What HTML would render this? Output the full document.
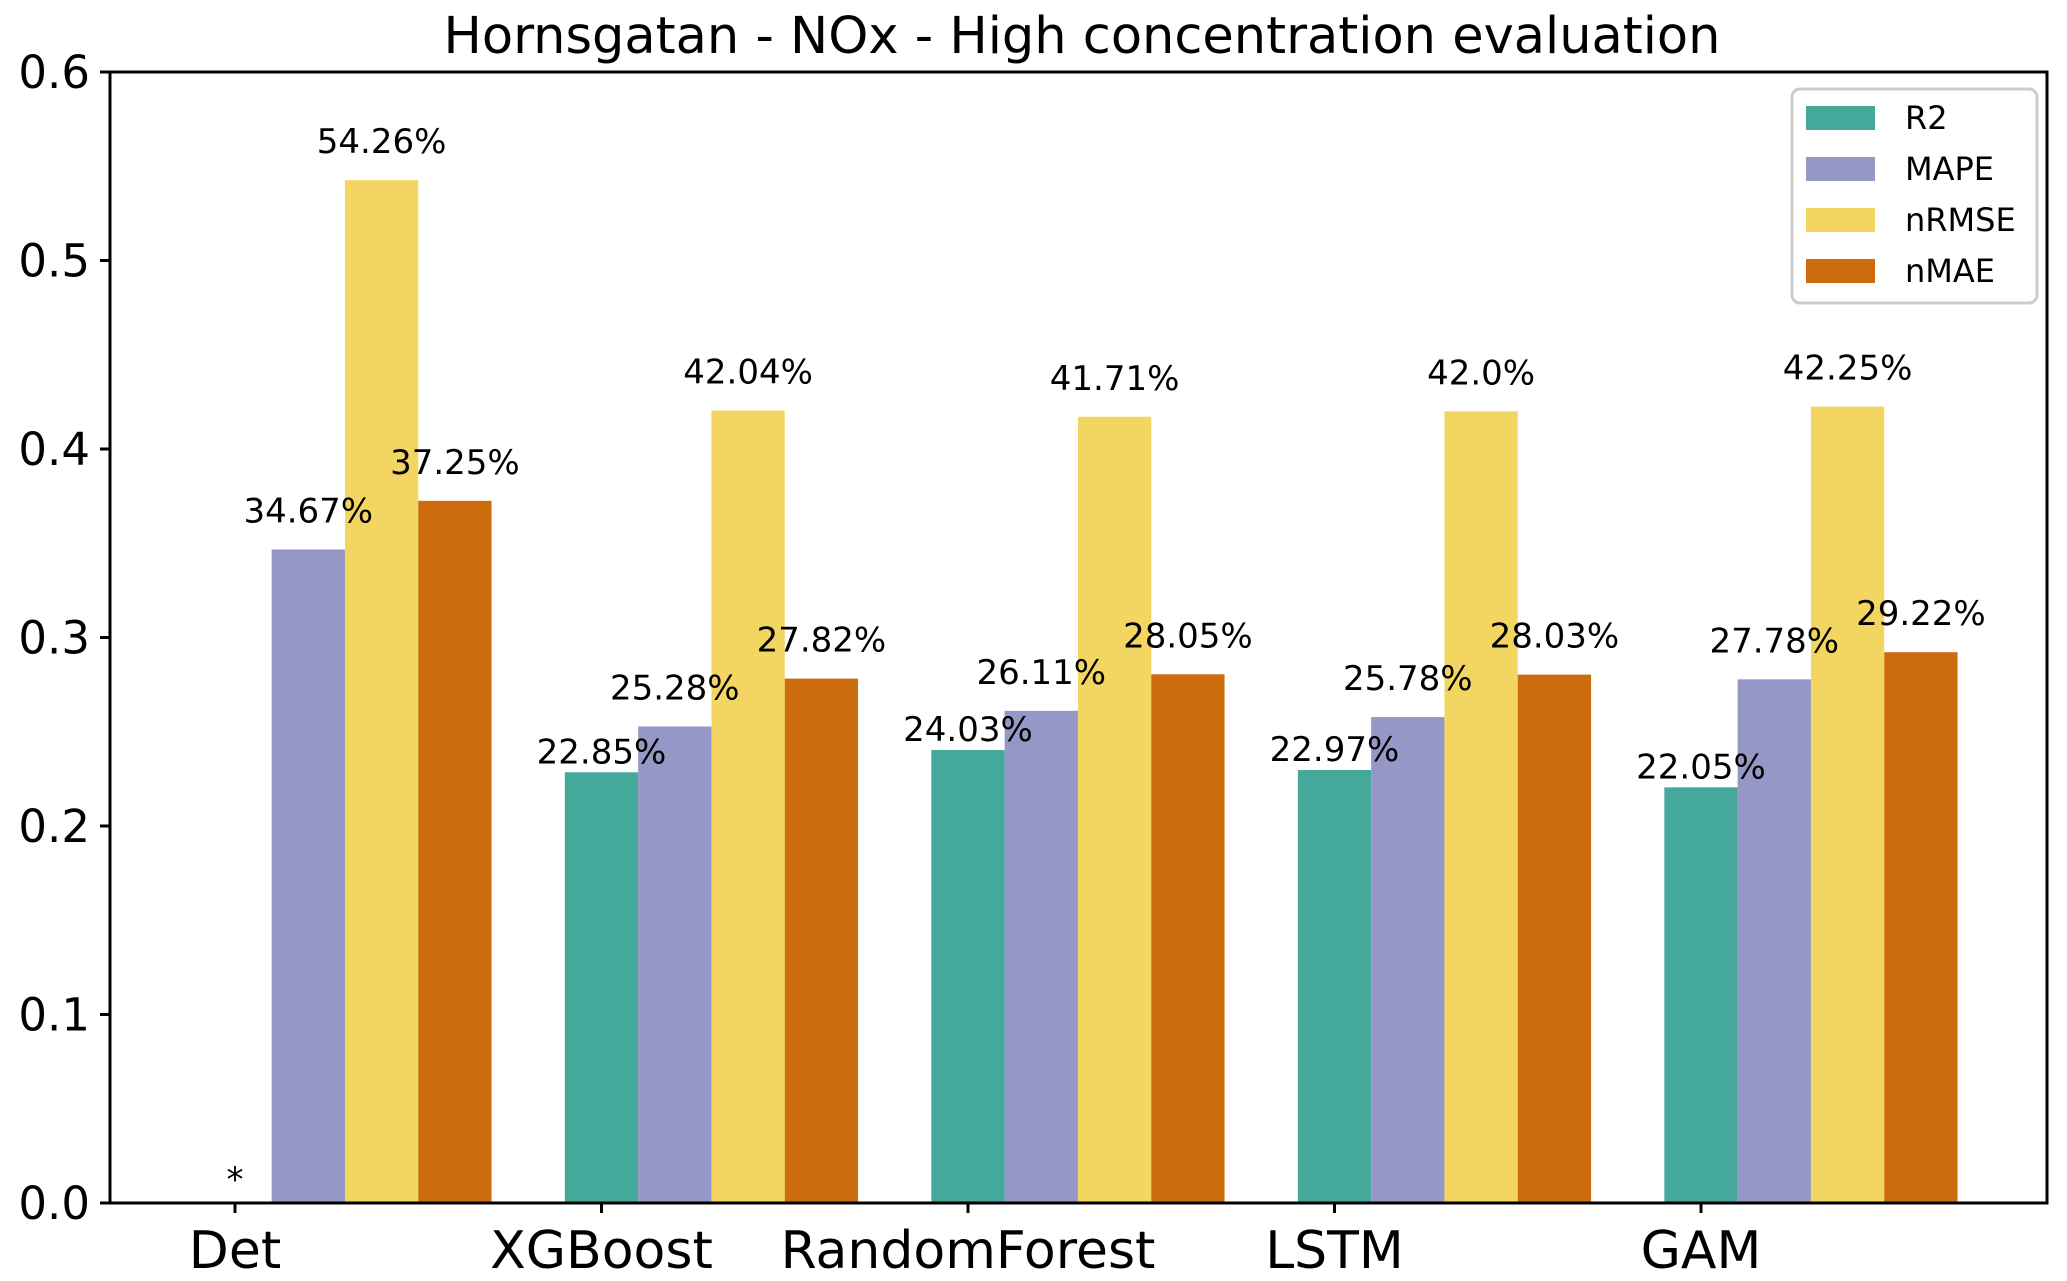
<!DOCTYPE html>
<html><head><meta charset="utf-8"><style>
html,body{margin:0;padding:0;background:#fff;}
svg{display:block;font-family:"DejaVu Sans","Liberation Sans",sans-serif;}
</style></head><body>
<svg id="chart" width="2067" height="1281" viewBox="0 0 2067 1281">
<text x="1082" y="53" font-size="51" text-anchor="middle">Hornsgatan - NOx - High concentration evaluation</text>
</svg>
<script>
const categories = ["Det","XGBoost","RandomForest","LSTM","GAM"];
const seriesNames = ["R2","MAPE","nRMSE","nMAE"];
const r2Values = [null,0.2285,0.2403,0.2297,0.2205];
const mapeValues = [0.3467,0.2528,0.2611,0.2578,0.2778];
const nrmseValues = [0.5426,0.4204,0.4171,0.4200,0.4225];
const nmaeValues = [0.3725,0.2782,0.2805,0.2803,0.2922];
const r2Labels = ["*","22.85%","24.03%","22.97%","22.05%"];
const mapeLabels = ["34.67%","25.28%","26.11%","25.78%","27.78%"];
const nrmseLabels = ["54.26%","42.04%","41.71%","42.0%","42.25%"];
const nmaeLabels = ["37.25%","27.82%","28.05%","28.03%","29.22%"];
const yTicks = [0,0.1,0.2,0.3,0.4,0.5,0.6];
const yTickLabels = ["0.0","0.1","0.2","0.3","0.4","0.5","0.6"];

const NS="http://www.w3.org/2000/svg";
const svg=document.getElementById('chart');
const L=110,R=2047,T=72,B=1203;
const colors=["#44a99a","#9598c6","#f3d562","#cc6c0e"];
const spacing=366.5, bw=73.3, x0=235;
const xCenter=i=>x0+i*spacing;
const y=v=>B-(v/0.6)*(B-T);
function mk(tag,attrs){const e=document.createElementNS(NS,tag);for(const k in attrs)e.setAttribute(k,attrs[k]);svg.appendChild(e);return e;}

const allVals=[r2Values,mapeValues,nrmseValues,nmaeValues];
const allLabels=[r2Labels,mapeLabels,nrmseLabels,nmaeLabels];
const seriesKeys=["r2","mape","nrmse","nmae"];
for(let s=0;s<4;s++){
  for(let i=0;i<categories.length;i++){
    const v=allVals[s][i];
    const cx=xCenter(i)+(s*bw);
    if(v!==null){
      const r=mk('rect',{x:cx-bw/2,y:y(v),width:bw,height:B-y(v),fill:colors[s]});
      
      
    }
  }
}
for(let s=0;s<4;s++){
  for(let i=0;i<categories.length;i++){
    const v=allVals[s][i];
    const cx=xCenter(i)+(s*bw);
    const lv=v===null?0:v;
    const off=v===null?12:(s===0?9:27);
    const t=mk('text',{x:cx,y:y(lv)-off,'font-size':34,'text-anchor':'middle'});
    t.textContent=allLabels[s][i];
    
    
  }
}
const fr=mk('rect',{x:L,y:T,width:R-L,height:B-T,fill:'none',stroke:'#000','stroke-width':3});


for(let k=0;k<yTicks.length;k++){
  const yy=y(yTicks[k]);
  const tl=mk('line',{x1:L-10,x2:L,y1:yy,y2:yy,stroke:'#000','stroke-width':3});
  
  
  const t=mk('text',{x:L-20,y:yy+16,'font-size':45,'text-anchor':'end'});
  t.textContent=yTickLabels[k];
  
  
}
for(let i=0;i<categories.length;i++){
  const xx=xCenter(i);
  const tl=mk('line',{x1:xx,x2:xx,y1:B,y2:B+10,stroke:'#000','stroke-width':3});
  
  
  const t=mk('text',{x:xx,y:B+65,'font-size':52,'text-anchor':'middle'});
  t.textContent=categories[i];
  
  
}
const lg=mk('rect',{x:1792,y:89,width:245,height:214,rx:8,fill:'#fff','fill-opacity':0.8,stroke:'#ccc','stroke-width':3});


for(let s=0;s<4;s++){
  const cy=118+s*51;
  const p=mk('rect',{x:1806,y:cy-12,width:69,height:24,fill:colors[s]});
  
  
  const t=mk('text',{x:1905,y:cy+11,'font-size':32});
  t.textContent=seriesNames[s];
  
  
}
</script>
</body></html>
